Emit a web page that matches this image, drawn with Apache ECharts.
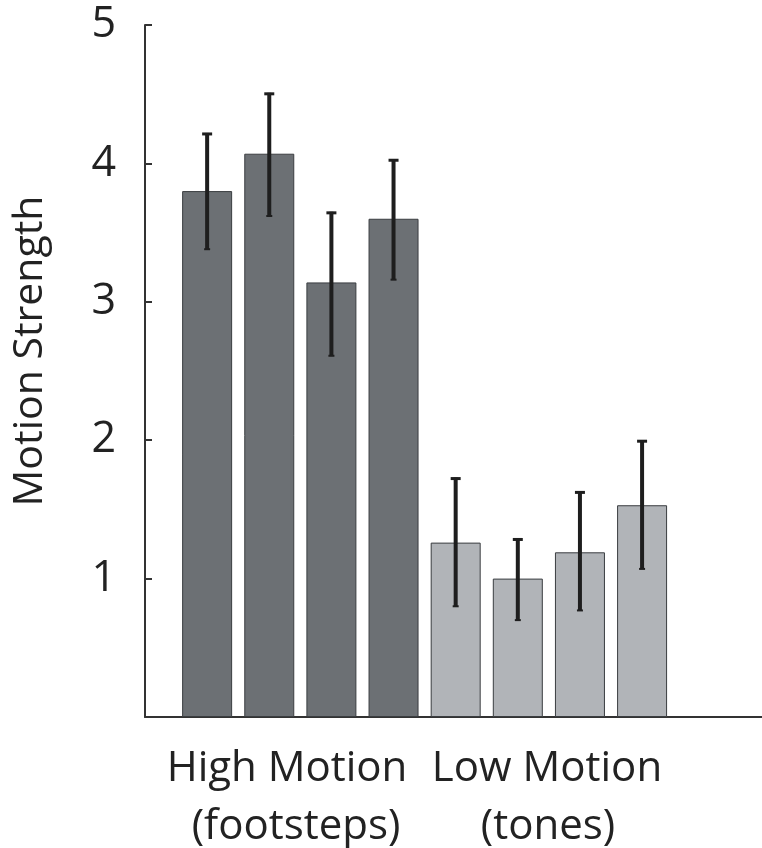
<!DOCTYPE html>
<html><head><meta charset="utf-8">
<script src="https://cdn.jsdelivr.net/npm/echarts@6/dist/echarts.min.js"></script>
<style>html,body{margin:0;padding:0;background:#fff}#c{width:762px;height:848px}</style>
</head><body><div id="c"></div>
<script>
const positions = [1, 2, 3, 4, 5, 6, 7, 8];
const groups = ['high', 'high', 'high', 'high', 'low', 'low', 'low', 'low'];
const means = [3.80, 4.07, 3.14, 3.60, 1.26, 1.00, 1.19, 1.53];
const errHigh = [4.22, 4.51, 3.65, 4.03, 1.73, 1.29, 1.63, 2.00];
const errLow = [3.38, 3.62, 2.61, 3.16, 0.80, 0.70, 0.77, 1.07];
const yTicks = [1, 2, 3, 4, 5];
const groupLine1 = ['High Motion', 'Low Motion'];
const groupLine2 = ['(footsteps)', '(tones)'];
const yTitle = 'Motion Strength';

const colors = {high: '#6c7074', low: '#b1b4b8'};
const FONT = '"Open Sans", "Noto Sans", sans-serif';

const chart = echarts.init(document.getElementById('c'), null, {renderer: 'canvas'});
const barData = positions.map((p, i) => ({
  value: [p, means[i]],
  itemStyle: {color: colors[groups[i]]}
}));
const errData = positions.map((p, i) => [p, errLow[i], errHigh[i]]);

const line1Centers = [287, 547];
const line2Centers = [296, 548];
const graphics = [];
groupLine1.forEach((t, i) => {
  graphics.push({type: 'text', x: line1Centers[i], y: 769, style: {text: t, font: '42px ' + FONT, fill: '#222', textAlign: 'center', textVerticalAlign: 'middle'}});
  graphics.push({type: 'text', x: line2Centers[i], y: 827, style: {text: groupLine2[i], font: '42px ' + FONT, fill: '#222', textAlign: 'center', textVerticalAlign: 'middle'}});
});
graphics.push({type: 'text', x: 30, y: 351, rotation: Math.PI / 2, style: {text: yTitle, font: '41px ' + FONT, fill: '#222', textAlign: 'center', textVerticalAlign: 'middle'}});

chart.setOption({
  animation: false,
  grid: {left: 145, right: 0, top: 25, bottom: 131, containLabel: false, outerBoundsMode: 'none'},
  xAxis: {
    type: 'value', min: 0, max: 9.93,
    axisLine: {show: true, lineStyle: {color: '#333', width: 2}},
    axisTick: {show: false}, axisLabel: {show: false}, splitLine: {show: false}
  },
  yAxis: {
    type: 'value', min: 0, max: 5, interval: 1,
    axisLine: {show: true, lineStyle: {color: '#333', width: 2}},
    axisTick: {show: true, inside: true, length: 7, lineStyle: {color: '#333', width: 2}},
    axisLabel: {
      fontFamily: FONT, fontSize: 43, color: '#222', margin: 29,
      formatter: v => (yTicks.indexOf(v) >= 0 ? String(v) : '')
    },
    splitLine: {show: false}
  },
  series: [
    {
      type: 'bar', data: barData, barWidth: 50,
      itemStyle: {borderColor: '#3a3d40', borderWidth: 1}
    },
    {
      type: 'custom', data: errData, z: 10,
      renderItem: function (params, api) {
        const x = api.value(0);
        const lo = api.coord([x, api.value(1)]);
        const hi = api.coord([x, api.value(2)]);
        const cw = 5;
        return {
          type: 'group',
          children: [
            {type: 'line', shape: {x1: lo[0], y1: lo[1], x2: hi[0], y2: hi[1]}, style: {stroke: '#1e1e1e', lineWidth: 4}},
            {type: 'line', shape: {x1: hi[0] - cw, y1: hi[1] + 1, x2: hi[0] + cw, y2: hi[1] + 1}, style: {stroke: '#1e1e1e', lineWidth: 3}},
            {type: 'line', shape: {x1: lo[0] - 3, y1: lo[1], x2: lo[0] + 3, y2: lo[1]}, style: {stroke: '#1e1e1e', lineWidth: 2}}
          ]
        };
      }
    }
  ],
  graphic: graphics
});
</script></body></html>
